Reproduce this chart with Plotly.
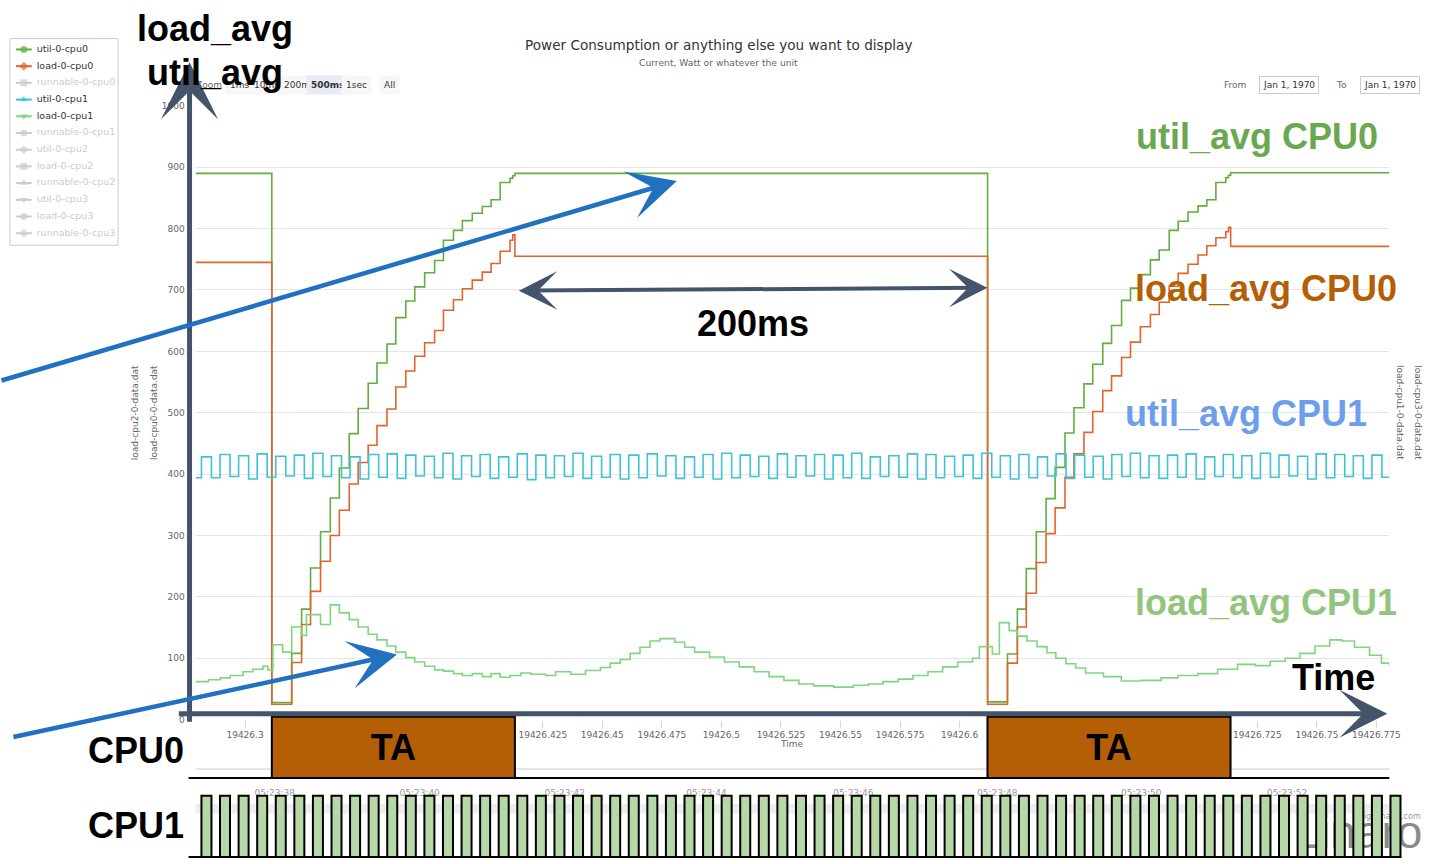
import plotly.graph_objects as go

W, H = 1439, 864


def px(x):
    return x / W


def py(y):
    return 1 - y / H


# ---------------- data ----------------
# time in ms after 19426.3 s
tick_ms = [0, 125, 150, 175, 200, 225, 250, 275, 300, 425, 450, 475]
tick_labels = ["19426.3", "19426.425", "19426.45", "19426.475", "19426.5", "19426.525",
               "19426.55", "19426.575", "19426.6", "19426.725", "19426.75", "19426.775"]
y_ticks = [0, 100, 200, 300, 400, 500, 600, 700, 800, 900, 1000]

cpu0_t = [-20.8, 11.25, 19.6, 23.75, 27.5, 31.7, 35.8, 39.6, 43.75, 47.5, 51.7, 55.4, 59.6, 63.3,
          67.5, 71.25, 75.4, 79.6, 83.3, 87.5, 91.25, 95.4, 99.6, 103.3, 107.1, 111.25, 112.4, 113.3,
          311.75, 320.1, 324.25, 328.0, 332.2, 336.3, 340.1, 344.25, 348.0, 352.2, 355.9, 360.1,
          363.8, 368.0, 371.75, 375.9, 380.1, 383.8, 388.0, 391.75, 395.9, 400.1, 403.8, 407.6,
          411.75, 412.9, 413.8, 480.4]
util_cpu0 = [890, 28, 108, 180, 247, 306, 361, 410, 466, 507, 548, 581, 612, 655, 682, 705, 728,
             748, 781, 797, 813, 825, 836, 847, 875, 882, 886, 890,
             29, 107, 180, 246, 306, 360, 411, 467, 508, 547, 579, 613, 642, 683, 703, 725, 749,
             765, 797, 812, 827, 837, 847, 875, 883, 887, 891, 891]
load_cpu0 = [745, 25, 93, 155, 209, 258, 300, 341, 384, 419, 447, 479, 506, 542, 568, 592, 614,
             634, 667, 684, 702, 716, 729, 743, 763, 781, 790, 755,
             25, 92, 151, 206, 256, 303, 345, 395, 433, 468, 502, 536, 560, 590, 615, 640, 660,
             680, 706, 727, 742, 757, 772, 785, 795, 802, 771, 771]

cpu1_run_start = [-18.3, -10.5, -2.7, 5.1, 12.9, 20.7, 28.5, 36.3, 44.1, 51.9, 59.7, 67.5, 75.3,
                  83.1, 90.9, 98.7, 106.5, 114.3, 122.1, 129.9, 137.7, 145.5, 153.3, 161.1, 168.9,
                  176.7, 184.5, 192.3, 200.1, 207.9, 215.7, 223.5, 231.3, 239.1, 246.9, 254.7,
                  262.5, 270.3, 278.1, 285.9, 293.7, 301.5, 309.3, 317.1, 324.9, 332.7, 340.5,
                  348.3, 356.1, 363.9, 371.7, 379.5, 387.3, 395.1, 402.9, 410.7, 418.5, 426.3,
                  434.1, 441.9, 449.7, 457.5, 465.3, 473.1, 480.9]
cpu1_run_end = [-14.1, -6.3, 1.5, 9.3, 17.1, 24.9, 32.7, 40.5, 48.3, 56.1, 63.9, 71.7, 79.5,
                87.3, 95.1, 102.9, 110.7, 118.5, 126.3, 134.1, 141.9, 149.7, 157.5, 165.3, 173.1,
                180.9, 188.7, 196.5, 204.3, 212.1, 219.9, 227.7, 235.5, 243.3, 251.1, 258.9,
                266.7, 274.5, 282.3, 290.1, 297.9, 305.7, 313.5, 321.3, 329.1, 336.9, 344.7,
                352.5, 360.3, 368.1, 375.9, 383.7, 391.5, 399.3, 407.1, 414.9, 422.7, 430.5,
                438.3, 446.1, 453.9, 461.7, 469.5, 477.3, 485.1]
util_cpu1_high = [428, 432, 430, 433, 429, 431, 434, 430, 428, 432, 433, 431, 429,
                  434, 430, 432, 428, 433, 431, 430, 434, 429, 432, 431, 433, 430,
                  428, 432, 434, 431, 429, 433, 430, 432, 431, 434, 428, 430, 433,
                  432, 429, 431, 434, 430, 432, 428, 433, 431, 429, 432, 434, 430,
                  431, 433, 428, 432, 430, 434, 431, 429, 433, 432, 430, 431, 433]
util_cpu1_low = [394, 396, 392, 395, 397, 393, 396, 394, 392, 395, 393, 397, 394,
                 392, 396, 393, 395, 391, 394, 396, 393, 395, 392, 394, 397, 393,
                 395, 392, 394, 396, 393, 395, 397, 392, 394, 393, 396, 395, 392,
                 394, 396, 393, 395, 392, 394, 397, 393, 395, 392, 396, 394, 393,
                 395, 392, 396, 394, 393, 395, 397, 392, 394, 396, 393, 395, 394]

load_cpu1_t = [-20.8, -15.4, -10.4, -6.25, -0.8, 3.3, 7.5, 9.6, 11.7, 15.8, 19.6, 23.75, 25.8,
               31.7, 35.8, 39.6, 43.75, 47.5, 51.7, 55.4, 59.6, 63.3, 67.5, 71.25, 75.4, 79.6,
               83.3, 87.5, 91.25, 95.4, 99.6, 103.3, 107.1, 111.25, 115.8, 120.0, 126.25, 130.4,
               136.7, 142.9, 149.2, 153.3, 157.5, 161.7, 165.8, 170.0, 174.2, 180.4, 184.6,
               188.75, 195.0, 201.25, 207.5, 213.75, 220.0, 226.25, 232.5, 238.75, 247.1, 255.4,
               261.7, 267.9, 274.2, 280.4, 286.7, 292.9, 299.2, 305.4, 308.3, 313.75, 316.7,
               320.8, 324.2, 328.3, 332.5, 336.7, 340.4, 344.6, 348.75, 352.9, 360.4, 367.9,
               376.25, 384.6, 391.7, 400.0, 408.3, 416.7, 424.2, 430.4, 436.7, 442.9, 449.2,
               455.4, 460.4, 465.8, 472.1, 477.1, 480.4]
load_cpu1 = [62, 65, 68, 72, 78, 82, 87, 81, 122, 110, 151, 137, 171,
             155, 187, 174, 163, 151, 139, 130, 120, 110, 101, 94, 87, 81,
             79, 75, 72, 75, 70, 75, 69, 72, 76, 74, 72, 78,
             74, 80, 85, 92, 98, 108, 118, 128, 132, 126, 118,
             110, 102, 94, 86, 78, 70, 64, 58, 55, 53, 56,
             58, 62, 66, 72, 78, 86, 94, 100, 119, 107, 158,
             145, 136, 128, 119, 109, 100, 91, 84, 76, 70, 63,
             64, 68, 72, 75, 82, 90, 88, 95, 100, 108, 120,
             130, 128, 118, 105, 92, 88]

cpu0_task_start = [11.25, 311.7]
cpu0_task_end = [113.3, 413.75]
cpu0_task_name = ["TA", "TA"]

# navigator time labels (ms after 19426.3 s)
nav_label_ms = [12.5, 73.3, 134.2, 193.75, 255.4, 315.8, 376.25, 437.5]
nav_labels = ["05:23:38", "05:23:40", "05:23:42", "05:23:44", "05:23:46", "05:23:48",
              "05:23:50", "05:23:52"]
logo_text = "Linaro"
credit_text = "Highcharts.com"

legend_names = ["util-0-cpu0", "load-0-cpu0", "runnable-0-cpu0", "util-0-cpu1", "load-0-cpu1",
                "runnable-0-cpu1", "util-0-cpu2", "load-0-cpu2", "runnable-0-cpu2",
                "util-0-cpu3", "load-0-cpu3", "runnable-0-cpu3"]
legend_shown = [True, True, False, True, True, False, False, False, False, False, False, False]
legend_symbols = ["circle", "diamond", "square", "triangle-up", "triangle-down", "circle",
                  "diamond", "square", "triangle-up", "triangle-down", "circle", "diamond"]

# ---------------- style ----------------
C_UTIL0 = "#5fae3e"
C_LOAD0 = "#e4632d"
C_UTIL1 = "#3cc3d5"
C_LOAD1 = "#7fd67f"
C_GRAY = "#cccccc"
legend_colors = [C_UTIL0, C_LOAD0, C_GRAY, C_UTIL1, C_LOAD1, C_GRAY, C_GRAY, C_GRAY, C_GRAY,
                 C_GRAY, C_GRAY, C_GRAY]
SLATE = "#44546a"
BLUE = "#2170c2"
BIG = "Liberation Sans, Arial, sans-serif"
SMALL = "DejaVu Sans, Verdana, sans-serif"

X_MIN, X_MAX = -20.8, 480.4
PX_PER_MS = (1400 - 197) / (X_MAX - X_MIN)
ROW_BOTTOM = 863  # pixel row of 0 on the bottom-strip axes


def ms_at(xpix):
    return (xpix - 247) / PX_PER_MS


def strip_y(ypix):
    return ROW_BOTTOM - ypix


fig = go.Figure()

fig.add_trace(go.Scatter(x=cpu0_t, y=util_cpu0, mode="lines", line=dict(color=C_UTIL0, width=1.6, shape="hv"),
                         showlegend=False, hoverinfo="skip"))
fig.add_trace(go.Scatter(x=cpu0_t, y=load_cpu0, mode="lines", line=dict(color=C_LOAD0, width=1.6, shape="hv"),
                         showlegend=False, hoverinfo="skip"))

cx, cy = [X_MIN], [util_cpu1_low[-1]]
for s, e, hi, lo in zip(cpu1_run_start, cpu1_run_end, util_cpu1_high, util_cpu1_low):
    cx += [s, e]
    cy += [hi, lo]
fig.add_trace(go.Scatter(x=cx, y=cy, mode="lines", line=dict(color=C_UTIL1, width=1.6, shape="hv"),
                         showlegend=False, hoverinfo="skip"))
fig.add_trace(go.Scatter(x=load_cpu1_t, y=load_cpu1, mode="lines", line=dict(color=C_LOAD1, width=1.6, shape="hv"),
                         showlegend=False, hoverinfo="skip"))

# navigator labels, logo and credit: base strip subplot (drawn under the bars overlay)
fig.add_trace(go.Scatter(x=nav_label_ms, y=[strip_y(798)] * len(nav_label_ms),
                         mode="text", text=nav_labels, cliponaxis=False,
                         textfont=dict(family=SMALL, size=9, color="#999999"),
                         xaxis="x2", yaxis="y2", showlegend=False, hoverinfo="skip"))
fig.add_trace(go.Scatter(x=[ms_at(1369)], y=[strip_y(841)], mode="text", text=[logo_text],
                         cliponaxis=False, textfont=dict(family=BIG, size=46, color="#8a8a8a"),
                         xaxis="x2", yaxis="y2", showlegend=False, hoverinfo="skip"))
fig.add_trace(go.Scatter(x=[ms_at(1400)], y=[strip_y(822)], mode="text", text=[credit_text],
                         cliponaxis=False, textfont=dict(family=SMALL, size=8, color="#999999"),
                         xaxis="x2", yaxis="y2", showlegend=False, hoverinfo="skip"))

# bottom rows: CPU0 tasks and CPU1 activity (overlay axes -> drawn on top)
fig.add_trace(go.Bar(x=[(s + e) / 2 for s, e in zip(cpu0_task_start, cpu0_task_end)],
                     width=[e - s for s, e in zip(cpu0_task_start, cpu0_task_end)],
                     y=[62] * len(cpu0_task_start), base=81,
                     text=["<b>" + t + "</b>" for t in cpu0_task_name], textposition="inside",
                     insidetextanchor="middle", textangle=0,
                     textfont=dict(family=BIG, size=36, color="black"),
                     marker=dict(color="#b45f06", line=dict(color="black", width=2)),
                     xaxis="x2", yaxis="y5", showlegend=False, hoverinfo="skip"))
fig.add_trace(go.Bar(x=[(s + e) / 2 for s, e in zip(cpu1_run_start, cpu1_run_end)],
                     width=[e - s for s, e in zip(cpu1_run_start, cpu1_run_end)],
                     y=[62] * len(cpu1_run_start), base=1,
                     marker=dict(color="#b6d7a8", line=dict(color="black", width=2)),
                     xaxis="x2", yaxis="y5", showlegend=False, hoverinfo="skip"))

# Highcharts-style legend (drawn in a pixel-space overlay subplot)
LEG_X0, LEG_Y0, LEG_DY = 16, 45, 16.9
for i, (sym, col) in enumerate(zip(legend_symbols, legend_colors)):
    yy = LEG_Y0 + LEG_DY * i
    fig.add_trace(go.Scatter(x=[LEG_X0, LEG_X0 + 8, LEG_X0 + 16], y=[yy] * 3, mode="lines+markers",
                             line=dict(color=col, width=2),
                             marker=dict(symbol=sym, size=[0, 7, 0], color=col, line=dict(width=0)),
                             xaxis="x3", yaxis="y3", showlegend=False, hoverinfo="skip"))
fig.add_trace(go.Scatter(x=[37] * len(legend_names), y=[LEG_Y0 + LEG_DY * i for i in range(len(legend_names))],
                         mode="text", text=legend_names, textposition="middle right",
                         textfont=dict(family=SMALL, size=9.5,
                                       color=["#333333" if s else "#cccccc" for s in legend_shown]),
                         xaxis="x3", yaxis="y3", showlegend=False, hoverinfo="skip", cliponaxis=False))

ann = []


def text(x, y, s, size, color, family=SMALL, **kw):
    d = dict(x=px(x), y=py(y), xref="paper", yref="paper", text=s, showarrow=False,
             font=dict(family=family, size=size, color=color), xanchor="center", yanchor="middle")
    d.update(kw)
    ann.append(d)


def arrow(xh, yh, xt, yt, color, width, size, both=False):
    ann.append(dict(x=px(xh), y=py(yh), xref="paper", yref="paper", text="",
                    ax=xt - xh, ay=yt - yh, axref="pixel", ayref="pixel",
                    showarrow=True, arrowhead=3, arrowsize=size, arrowwidth=width,
                    arrowcolor=color, arrowside="end+start" if both else "end",
                    startarrowhead=3, startarrowsize=size))


# Highcharts chrome
text(724, 40, "Power Consumption or anything else you want to display", 13.6, "#333333")
text(724, 58, "Current, Watt or whatever the unit", 9.2, "#666666")
text(211, 81, "Zoom", 9, "#666666")
for lbl, xc, sel in [("1ms", 241, False), ("10ms", 269, False), ("200ms", 302, False),
                     ("500ms", 331, True), ("1sec", 359, False), ("All", 392, False)]:
    text(xc, 81, "<b>" + lbl + "</b>" if sel else lbl, 9, "#333333",
         bgcolor="#e6ebf5" if sel else "#f7f7f7", borderpad=4)
text(1245, 81, "From", 9, "#666666")
text(1299, 81, "Jan 1, 1970", 9, "#333333", bordercolor="#cccccc", borderwidth=1, borderpad=3, bgcolor="white")
text(1352, 81, "To", 9, "#666666")
text(1401, 81, "Jan 1, 1970", 9, "#333333", bordercolor="#cccccc", borderwidth=1, borderpad=3, bgcolor="white")
text(136, 412, "load-cpu2-0-data.dat", 9, "#666666", textangle=-90)
text(155, 412, "load-cpu0-0-data.dat", 9, "#666666", textangle=-90)
text(1411, 412, "load-cpu1-0-data.dat", 9, "#666666", textangle=90)
text(1429, 412, "load-cpu3-0-data.dat", 9, "#666666", textangle=90)
text(798, 748, "Time", 9, "#666666")

# hand-drawn arrows
arrow(191, 58, 191, 719, SLATE, 5, 1.9)
arrow(1398, 717, 188, 717, SLATE, 5, 1.6)
arrow(995, 286, 525, 289, SLATE, 4, 1.6, both=True)
arrow(682, 178, -10, 378, BLUE, 4.5, 1.8)
arrow(400, 657, 15, 740, BLUE, 4.5, 1.8)

# big labels
text(217, 24, "<b>load_avg</b>", 36, "black", BIG)
text(217, 68, "<b>util_avg</b>", 36, "black", BIG)
text(1267, 133, "<b>util_avg CPU0</b>", 36, "#6aa84f", BIG)
text(1276, 287, "<b>load_avg CPU0</b>", 36, "#b45f06", BIG)
text(759, 322, "<b>200ms</b>", 36, "black", BIG)
text(1256, 413, "<b>util_avg CPU1</b>", 36, "#6d9eeb", BIG)
text(1276, 604, "<b>load_avg CPU1</b>", 36, "#93c47d", BIG)
text(1344, 680, "<b>Time</b>", 36, "black", BIG)
text(137, 754, "<b>CPU0</b>", 36, "black", BIG)
text(137, 830, "<b>CPU1</b>", 36, "black", BIG)

shapes = [
    dict(type="rect", xref="paper", yref="paper", x0=px(10), x1=px(119), y0=py(243), y1=py(34),
         fillcolor="white", line=dict(color="#cccccc", width=1), layer="below"),
    dict(type="line", xref="paper", yref="paper", x0=px(197), x1=px(1400), y0=py(773), y1=py(773),
         line=dict(color="#cccccc", width=1), layer="below"),
    dict(type="rect", xref="paper", yref="paper", x0=px(197), x1=px(1400), y0=py(818), y1=py(808),
         fillcolor="#eeeeee", line=dict(width=0), layer="below"),
    dict(type="line", xref="paper", yref="paper", x0=px(190), x1=px(1400), y0=py(782), y1=py(782),
         line=dict(color="black", width=2)),
    dict(type="line", xref="paper", yref="paper", x0=px(190), x1=px(1412), y0=py(862), y1=py(862),
         line=dict(color="black", width=2)),
]

strip_range = [0, ROW_BOTTOM - 719]
fig.update_layout(
    width=W, height=H, margin=dict(l=0, r=0, t=0, b=0),
    paper_bgcolor="white", plot_bgcolor="rgba(0,0,0,0)",
    barmode="overlay", showlegend=False,
    xaxis=dict(domain=[px(197), px(1400)], range=[X_MIN, X_MAX], tickvals=tick_ms, ticktext=tick_labels,
               showgrid=False, zeroline=False, showline=False, ticks="outside", ticklen=7,
               tickcolor="#ccd6eb", tickfont=dict(family=SMALL, size=9, color="#666666"), anchor="y"),
    yaxis=dict(domain=[py(723), py(102)], range=[0, 1000], tickvals=y_ticks,
               gridcolor="#e6e6e6", gridwidth=1, zeroline=False, showline=False,
               ticks="outside", ticklen=8, tickcolor="rgba(0,0,0,0)",
               tickfont=dict(family=SMALL, size=9, color="#666666"), anchor="x"),
    xaxis2=dict(domain=[px(197), 1.0], range=[X_MIN, X_MIN + (W - 197) / PX_PER_MS], visible=False,
                anchor="y2"),
    yaxis2=dict(domain=[py(ROW_BOTTOM), py(719)], range=strip_range, visible=False, anchor="x2"),
    yaxis5=dict(domain=[py(ROW_BOTTOM), py(719)], range=strip_range, visible=False, anchor="x2",
                overlaying="y2"),
    xaxis3=dict(domain=[0, 1], range=[0, W], visible=False, anchor="y3", fixedrange=True),
    yaxis3=dict(domain=[0, 1], range=[H, 0], visible=False, anchor="x3", fixedrange=True),
    annotations=ann, shapes=shapes,
)

fig.write_html(
    "out.html",
    config={"displayModeBar": False},
    post_script=("document.body.style.margin='0';document.body.style.overflow='hidden';"
                 "Plotly.relayout('{plot_id}', {width: window.innerWidth, height: window.innerHeight});"),
)
